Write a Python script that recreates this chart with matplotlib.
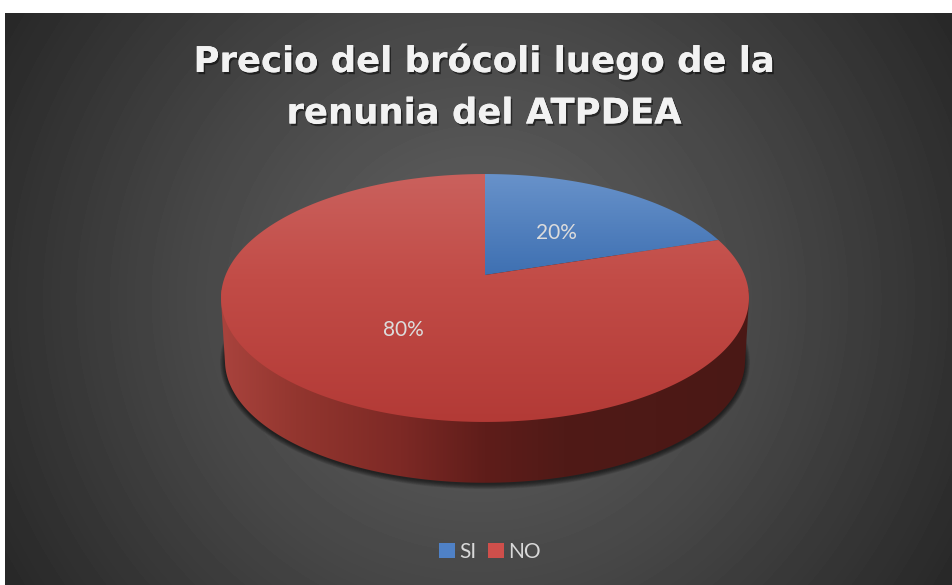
import numpy as np
import matplotlib
matplotlib.use("Agg")
import matplotlib.pyplot as plt
from matplotlib.patches import Polygon, Patch
import matplotlib.patheffects as pe
from matplotlib.colors import LinearSegmentedColormap

# ---- data ----
categories = ["SI", "NO"]
values = [20, 80]
title_lines = "Precio del brócoli luego de la\nrenunia del ATPDEA"
slice_top = ["#6892ca", "#ca615d"]
slice_mid = ["#3e70b2", "#c24c47"]
slice_bottom = ["#3e70b2", "#b33a36"]

W, H = 953, 585
fig = plt.figure(figsize=(W / 100, H / 100), dpi=100, facecolor="white")
ax = fig.add_axes([0, 0, 1, 1])
ax.set_xlim(0, W)
ax.set_ylim(H, 0)
ax.axis("off")

# background radial gradient
X0, X1, Y0, Y1 = 5, 953, 13, 585
xx, yy = np.meshgrid(np.arange(X0, X1) + .5, np.arange(Y0, Y1) + .5)
dist = np.hypot(xx - 479, yy - 299)
grey = np.interp(dist, [0, 140, 300, 560], [0x5c, 0x56, 0x46, 0x27]) / 255
ax.imshow(grey, cmap="gray", vmin=0, vmax=1, extent=(X0, X1, Y1, Y0),
          aspect="auto", zorder=0, interpolation="bilinear")

# pie geometry (perspective projection of a flat disc)
CX, AY, A, B, K = 485, 275, 259.4, 119.7, 0.1855
DEPTH, SHRINK = 63, 0.985


def project(theta, r=1.0, drop=0.0, scale=1.0):
    u, v = r * np.sin(theta), r * np.cos(theta)
    d = 1 + K * v
    return CX + scale * A * u / d, AY + drop + scale * B * v * -1 / d


def outline(drop=0.0, scale=1.0, n=720, grow=0.0):
    t = np.linspace(0, 2 * np.pi, n, endpoint=False)
    x, y = project(t, 1.0, drop, scale)
    mx, my = x.mean(), (y.max() + y.min()) / 2
    sx = 1 + grow / (x.max() - mx)
    sy = 1 + grow / (y.max() - my)
    return np.column_stack([mx + (x - mx) * sx, my + (y - my) * sy])


def hull(points):
    pts = sorted(map(tuple, points))
    def half(seq):
        out = []
        for p in seq:
            while len(out) > 1 and ((out[-1][0] - out[-2][0]) * (p[1] - out[-2][1])
                                    - (out[-1][1] - out[-2][1]) * (p[0] - out[-2][0])) <= 0:
                out.pop()
            out.append(p)
        return out[:-1]
    return np.array(half(pts) + half(pts[::-1]))


# soft shadow under the disc
for g in np.linspace(5, 0, 12):
    ax.add_patch(Polygon(outline(DEPTH + 1.5, SHRINK, grow=g), closed=True, fc="black",
                         ec="none", alpha=0.06, zorder=1))

# side wall
side = Polygon(hull(np.vstack([outline(), outline(DEPTH, SHRINK)])), closed=True,
               fc="none", ec="none", zorder=2)
ax.add_patch(side)
side_cmap = LinearSegmentedColormap.from_list("side", [
    (0.00, "#a9433d"), (0.14, "#93362f"), (0.34, "#7d2925"), (0.50, "#5f1d1a"),
    (0.65, "#501a17"), (1.00, "#4a1815")])
im = ax.imshow(np.linspace(0, 1, 256)[None, :], cmap=side_cmap, extent=(221, 749, 490, 290),
               aspect="auto", zorder=2)
im.set_clip_path(side)

# top face slices
shares = np.array(values, float) / sum(values)
edges = np.concatenate([[0], np.cumsum(shares)]) * 2 * np.pi
for i, name in enumerate(categories):
    t = np.linspace(edges[i], edges[i + 1], 400)
    x, y = project(t)
    poly = Polygon(np.vstack([[project(0.0, 0.0)], np.column_stack([x, y])]),
                   closed=True, fc="none", ec="none", zorder=3)
    ax.add_patch(poly)
    if i == 0:
        cm = LinearSegmentedColormap.from_list(name, [slice_top[i], slice_bottom[i]])
        lo, hi = 174, 275
    else:
        cm = LinearSegmentedColormap.from_list(name, [(0, slice_top[i]), (0.42, slice_mid[i]), (1, slice_bottom[i])])
        lo, hi = 174, 423
    g = ax.imshow(np.linspace(0, 1, 256)[:, None], cmap=cm, extent=(221, 749, hi, lo),
                  aspect="auto", zorder=3 + i * .1)
    g.set_clip_path(poly)
    mid = (edges[i] + edges[i + 1]) / 2
    lx, ly = project(mid, 0.5)
    ax.text(lx + 1, ly + 3, f"{values[i]}%", color="#dcdcdc", fontsize=15, family="Lato",
            ha="center", va="center", zorder=5)

ax.set_xlim(0, W)
ax.set_ylim(H, 0)

# title
ax.text(484, 87, title_lines, ha="center", va="center", color="#f2f2f2", fontsize=25.5,
        family="DejaVu Sans", fontweight="bold", linespacing=1.65, zorder=6,
        path_effects=[pe.withSimplePatchShadow(offset=(1.2, -1.6), shadow_rgbFace="black", alpha=0.5),
                      pe.Normal()])

# legend
handles = [Patch(fc=c, ec="none") for c in ["#4f81c6", "#cf4f4b"]]
ax.legend(handles, categories, loc="center", bbox_to_anchor=(490, 552), bbox_transform=ax.transData,
          ncol=2, frameon=False, labelcolor="#d9d9d9", prop={"family": "Lato", "size": 15},
          handlelength=0.75, handleheight=0.75, handletextpad=0.2, columnspacing=0.57,
          borderpad=0, borderaxespad=0)

fig.savefig("out.png", dpi=100, facecolor="white")
